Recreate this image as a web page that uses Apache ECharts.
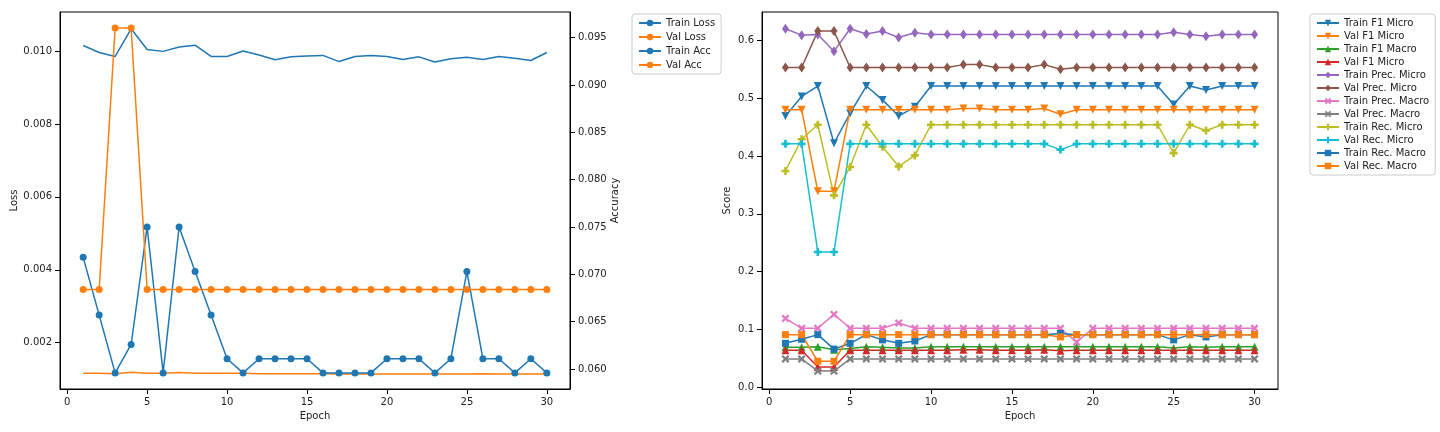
<!DOCTYPE html>
<html>
<head>
<meta charset="utf-8">
<script src="https://cdn.jsdelivr.net/npm/echarts@6/dist/echarts.min.js"></script>
<style>
  html, body { margin: 0; padding: 0; background: #fff; }
  #chart { width: 1440px; height: 432px; }
</style>
</head>
<body>
<div id="chart"></div>
<script>
var epochs = [];
for (var e = 1; e <= 30; e++) epochs.push(e);

// left panel
var trainLoss = [0.01015, 0.00996, 0.00985, 0.01061, 0.01004, 0.00999, 0.01011, 0.01016, 0.00985, 0.00985,
  0.01000, 0.00989, 0.00976, 0.00984, 0.00986, 0.00988, 0.00971, 0.00985, 0.00988, 0.00985,
  0.00977, 0.00984, 0.00970, 0.00979, 0.00983, 0.00977, 0.00985, 0.00980, 0.00974, 0.00996];
var valLoss = [0.00116, 0.00116, 0.00115, 0.00119, 0.00116, 0.00116, 0.00118, 0.00116, 0.00116, 0.00116,
  0.00116, 0.00115, 0.00115, 0.00115, 0.00115, 0.00115, 0.00114, 0.00114, 0.00114, 0.00114,
  0.00114, 0.00114, 0.00114, 0.00114, 0.00114, 0.00115, 0.00114, 0.00114, 0.00114, 0.00114];
var trainAcc = [0.0718, 0.0657, 0.0596, 0.0626, 0.0750, 0.0596, 0.0750, 0.0703, 0.0657, 0.0611,
  0.0596, 0.0611, 0.0611, 0.0611, 0.0611, 0.0596, 0.0596, 0.0596, 0.0596, 0.0611,
  0.0611, 0.0611, 0.0596, 0.0611, 0.0703, 0.0611, 0.0611, 0.0596, 0.0611, 0.0596];
var valAcc = [0.0684, 0.0684, 0.0960, 0.0960, 0.0684, 0.0684, 0.0684, 0.0684, 0.0684, 0.0684,
  0.0684, 0.0684, 0.0684, 0.0684, 0.0684, 0.0684, 0.0684, 0.0684, 0.0684, 0.0684,
  0.0684, 0.0684, 0.0684, 0.0684, 0.0684, 0.0684, 0.0684, 0.0684, 0.0684, 0.0684];

// right panel
var trainF1Micro = [0.469, 0.503, 0.521, 0.422, 0.474, 0.521, 0.497, 0.469, 0.485, 0.521,
  0.521, 0.521, 0.521, 0.521, 0.521, 0.521, 0.521, 0.521, 0.521, 0.521,
  0.521, 0.521, 0.521, 0.521, 0.489, 0.521, 0.514, 0.521, 0.521, 0.521];
var valF1Micro = [0.480, 0.480, 0.339, 0.339, 0.480, 0.480, 0.480, 0.480, 0.480, 0.480,
  0.480, 0.482, 0.482, 0.480, 0.480, 0.480, 0.482, 0.472, 0.480, 0.480,
  0.480, 0.480, 0.480, 0.480, 0.480, 0.480, 0.480, 0.480, 0.480, 0.480];
var trainF1Macro = [0.069, 0.069, 0.070, 0.065, 0.067, 0.070, 0.069, 0.068, 0.068, 0.070,
  0.070, 0.070, 0.070, 0.070, 0.070, 0.070, 0.070, 0.070, 0.070, 0.070,
  0.070, 0.070, 0.070, 0.070, 0.068, 0.070, 0.069, 0.070, 0.070, 0.070];
var valF1Micro2 = [0.064, 0.064, 0.035, 0.035, 0.064, 0.064, 0.064, 0.064, 0.064, 0.064,
  0.064, 0.065, 0.065, 0.064, 0.064, 0.064, 0.065, 0.063, 0.064, 0.064,
  0.064, 0.064, 0.064, 0.064, 0.064, 0.064, 0.064, 0.064, 0.064, 0.064];
var trainPrecMicro = [0.620, 0.609, 0.610, 0.581, 0.620, 0.611, 0.616, 0.605, 0.613, 0.610,
  0.610, 0.610, 0.610, 0.610, 0.610, 0.610, 0.610, 0.610, 0.610, 0.610,
  0.610, 0.610, 0.610, 0.610, 0.614, 0.610, 0.607, 0.610, 0.610, 0.610];
var valPrecMicro = [0.553, 0.553, 0.616, 0.616, 0.553, 0.553, 0.553, 0.553, 0.553, 0.553,
  0.553, 0.558, 0.558, 0.553, 0.553, 0.553, 0.558, 0.550, 0.553, 0.553,
  0.553, 0.553, 0.553, 0.553, 0.553, 0.553, 0.553, 0.553, 0.553, 0.553];
var trainPrecMacro = [0.119, 0.102, 0.102, 0.126, 0.102, 0.102, 0.102, 0.111, 0.102, 0.102,
  0.102, 0.102, 0.102, 0.102, 0.102, 0.102, 0.102, 0.102, 0.078, 0.102,
  0.102, 0.102, 0.102, 0.102, 0.102, 0.102, 0.102, 0.102, 0.102, 0.102];
var valPrecMacro = [0.049, 0.049, 0.028, 0.028, 0.049, 0.049, 0.049, 0.049, 0.049, 0.049,
  0.049, 0.049, 0.049, 0.049, 0.049, 0.049, 0.049, 0.049, 0.049, 0.049,
  0.049, 0.049, 0.049, 0.049, 0.049, 0.049, 0.049, 0.049, 0.049, 0.049];
var trainRecMicro = [0.374, 0.429, 0.454, 0.332, 0.381, 0.454, 0.416, 0.382, 0.401, 0.454,
  0.454, 0.454, 0.454, 0.454, 0.454, 0.454, 0.454, 0.454, 0.454, 0.454,
  0.454, 0.454, 0.454, 0.454, 0.405, 0.454, 0.444, 0.454, 0.454, 0.454];
var valRecMicro = [0.421, 0.421, 0.234, 0.234, 0.421, 0.421, 0.421, 0.421, 0.421, 0.421,
  0.421, 0.421, 0.421, 0.421, 0.421, 0.421, 0.421, 0.411, 0.421, 0.421,
  0.421, 0.421, 0.421, 0.421, 0.421, 0.421, 0.421, 0.421, 0.421, 0.421];
var trainRecMacro = [0.076, 0.083, 0.091, 0.066, 0.076, 0.091, 0.082, 0.076, 0.080, 0.091,
  0.091, 0.091, 0.091, 0.091, 0.091, 0.091, 0.091, 0.093, 0.091, 0.091,
  0.091, 0.091, 0.091, 0.091, 0.082, 0.091, 0.087, 0.091, 0.091, 0.091];
var valRecMacro = [0.091, 0.091, 0.045, 0.045, 0.091, 0.091, 0.091, 0.091, 0.091, 0.091,
  0.091, 0.091, 0.091, 0.091, 0.091, 0.091, 0.091, 0.087, 0.091, 0.091,
  0.091, 0.091, 0.091, 0.091, 0.091, 0.091, 0.091, 0.091, 0.091, 0.091];

var epochTicks = [0, 5, 10, 15, 20, 25, 30];
var lossTicks = [0.002, 0.004, 0.006, 0.008, 0.010];
var accTicks = [0.060, 0.065, 0.070, 0.075, 0.080, 0.085, 0.090, 0.095];
var scoreTicks = [0.0, 0.1, 0.2, 0.3, 0.4, 0.5, 0.6];

var BLUE = "#1f77b4", ORANGE = "#ff7f0e", GREEN = "#2ca02c", RED = "#d62728",
  PURPLE = "#9467bd", BROWN = "#8c564b", PINK = "#e377c2", GRAY = "#7f7f7f",
  OLIVE = "#bcbd22", CYAN = "#17becf";

var PLUS = "path://M-1,-3H1V-1H3V1H1V3H-1V1H-3V-1H-1Z";
var XMARK = "path://M-2.1,-3.5L0,-1.4L2.1,-3.5L3.5,-2.1L1.4,0L3.5,2.1L2.1,3.5L0,1.4L-2.1,3.5L-3.5,2.1L-1.4,0L-3.5,-2.1Z";
var DIAMOND = "path://M0,-5L3,0L0,5L-3,0Z";

function pairs(vals) {
  return epochs.map(function(x, i) { return [x, vals[i]]; });
}

var font = "DejaVu Sans";
var txt = { color: "#222", fontFamily: font, fontSize: 10 };

function xAxis(idx) {
  return {
    type: "value", gridIndex: idx, min: -0.45, max: 31.45,
    name: "Epoch", nameLocation: "middle", nameGap: 22, nameTextStyle: txt,
    axisLine: { show: true, onZero: false, lineStyle: { color: "#000" } },
    axisTick: { show: true, customValues: epochTicks, lineStyle: { color: "#000" } },
    axisLabel: Object.assign({ customValues: epochTicks }, txt),
    splitLine: { show: false }
  };
}

function yAxis(idx, name, min, max, ticks, pos, fmt, gap) {
  return {
    type: "value", gridIndex: idx, min: min, max: max, position: pos,
    name: name, nameLocation: "middle", nameGap: gap, nameTextStyle: txt,
    axisLine: { show: true, onZero: false, lineStyle: { color: "#000" } },
    axisTick: { show: true, customValues: ticks, lineStyle: { color: "#000" } },
    axisLabel: Object.assign({ customValues: ticks, formatter: fmt }, txt),
    splitLine: { show: false }
  };
}

function line(name, vals, color, xi, yi, symbol, size, rot) {
  return {
    name: name, type: "line", xAxisIndex: xi, yAxisIndex: yi, data: pairs(vals),
    symbol: symbol || "none", symbolSize: size || 6, symbolRotate: rot || 0,
    showSymbol: !!symbol,
    lineStyle: { color: color, width: 1.5 }, itemStyle: { color: color },
    animation: false
  };
}

var chart = echarts.init(document.getElementById("chart"));
chart.setOption({
  backgroundColor: "#fff",
  textStyle: { fontFamily: font },
  grid: [
    { left: 60, right: 870, top: 12, bottom: 43, show: true, borderColor: "#000", borderWidth: 1 },
    { left: 762, right: 162, top: 12, bottom: 43, show: true, borderColor: "#000", borderWidth: 1 }
  ],
  xAxis: [xAxis(0), xAxis(1)],
  yAxis: [
    yAxis(0, "Loss", 0.00073, 0.01107, lossTicks, "left", function(v) { return v.toFixed(3); }, 36),
    yAxis(0, "Accuracy", 0.0579, 0.0977, accTicks, "right", function(v) { return v.toFixed(3); }, 40),
    yAxis(1, "Score", -0.003, 0.649, scoreTicks, "left", function(v) { return v.toFixed(1); }, 30)
  ],
  legend: [
    {
      left: 632, top: 14, orient: "vertical", itemGap: 4, itemWidth: 22, itemHeight: 8,
      textStyle: txt, borderColor: "#ccc", borderWidth: 1, borderRadius: 3, padding: [4, 6],
      data: ["Train Loss", "Val Loss", "Train Acc", "Val Acc"]
    },
    {
      left: 1310, top: 14, orient: "vertical", itemGap: 3, itemWidth: 22, itemHeight: 8,
      textStyle: txt, borderColor: "#ccc", borderWidth: 1, borderRadius: 3, padding: [4, 6],
      data: ["Train F1 Micro", "Val F1 Micro", "Train F1 Macro", "Val F1 Micro ", "Train Prec. Micro",
        "Val Prec. Micro", "Train Prec. Macro", "Val Prec. Macro", "Train Rec. Micro", "Val Rec. Micro",
        "Train Rec. Macro", "Val Rec. Macro"]
    }
  ],
  series: [
    line("Train Loss", trainLoss, BLUE, 0, 0),
    line("Val Loss", valLoss, ORANGE, 0, 0),
    line("Train Acc", trainAcc, BLUE, 0, 1, "circle", 7),
    line("Val Acc", valAcc, ORANGE, 0, 1, "circle", 7),
    line("Train F1 Micro", trainF1Micro, BLUE, 1, 2, "triangle", 8, 180),
    line("Val F1 Micro", valF1Micro, ORANGE, 1, 2, "triangle", 8, 180),
    line("Train F1 Macro", trainF1Macro, GREEN, 1, 2, "triangle", 8),
    line("Val F1 Micro ", valF1Micro2, RED, 1, 2, "triangle", 8),
    line("Train Prec. Micro", trainPrecMicro, PURPLE, 1, 2, DIAMOND, [7, 10]),
    line("Val Prec. Micro", valPrecMicro, BROWN, 1, 2, DIAMOND, [7, 10]),
    line("Train Prec. Macro", trainPrecMacro, PINK, 1, 2, XMARK, 8),
    line("Val Prec. Macro", valPrecMacro, GRAY, 1, 2, XMARK, 8),
    line("Train Rec. Micro", trainRecMicro, OLIVE, 1, 2, PLUS, 8),
    line("Val Rec. Micro", valRecMicro, CYAN, 1, 2, PLUS, 8),
    line("Train Rec. Macro", trainRecMacro, BLUE, 1, 2, "rect", 7),
    line("Val Rec. Macro", valRecMacro, ORANGE, 1, 2, "rect", 7)
  ]
});
</script>
</body>
</html>
